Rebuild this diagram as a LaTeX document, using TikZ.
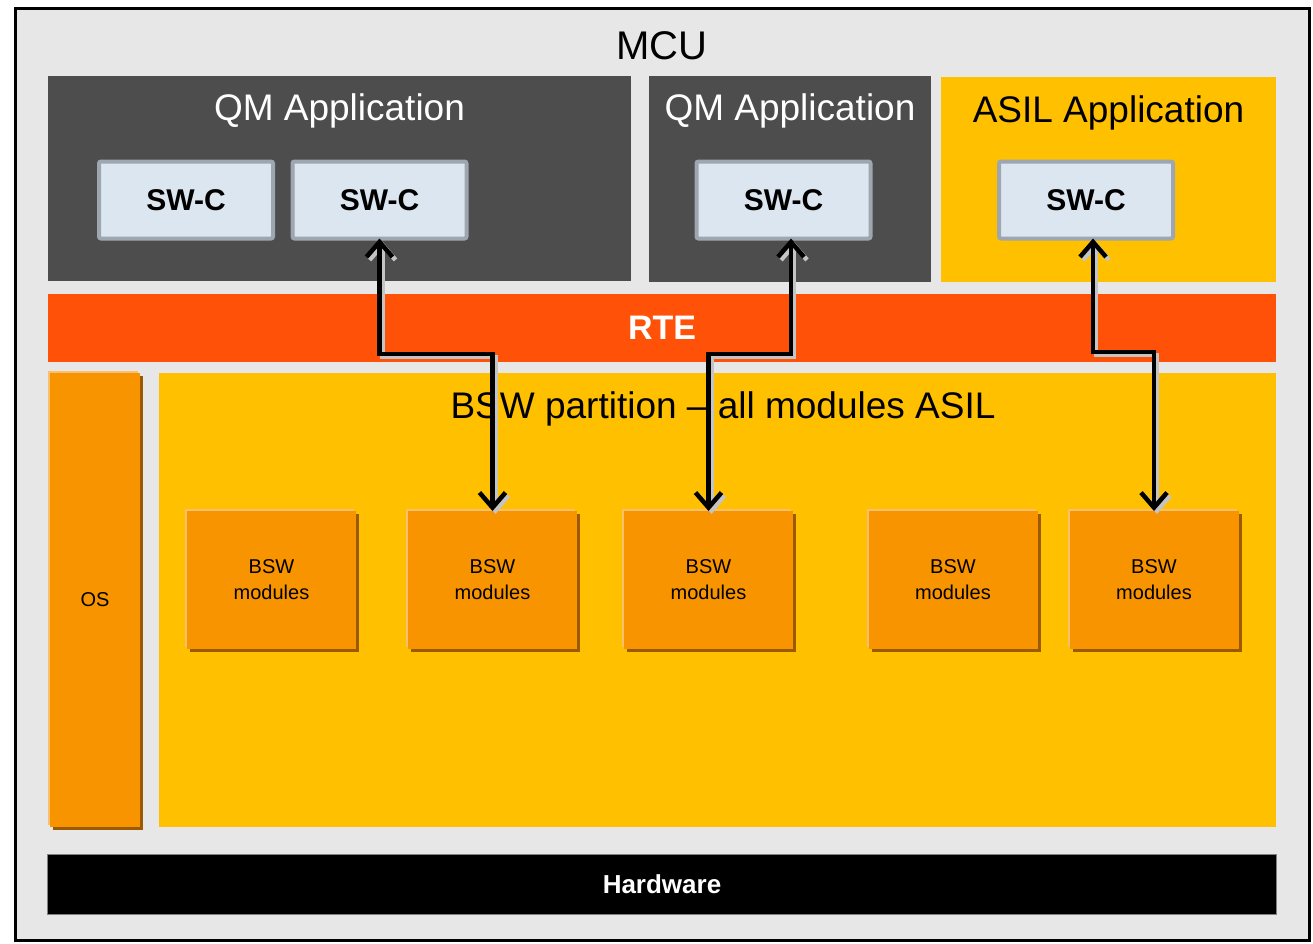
\documentclass[tikz,border=0pt]{standalone}
\usepackage{fontspec}
\setmainfont{Liberation Sans}
\usetikzlibrary{arrows.meta,shadows}
\definecolor{bgc}{HTML}{E7E7E7}
\definecolor{qmc}{HTML}{4D4D4D}
\definecolor{asilc}{HTML}{FFC000}
\definecolor{rtec}{HTML}{FF5208}
\definecolor{modc}{HTML}{F79400}
\definecolor{hlc}{HTML}{FBC06E}
\definecolor{shc}{HTML}{9C5A00}
\definecolor{swf}{HTML}{DCE6F0}
\definecolor{swb}{HTML}{9EA7AF}
\definecolor{arrsh}{HTML}{C4C4C4}
\tikzset{
  blk/.style={inner sep=0pt, outer sep=0pt},
  qmbox/.style={blk, fill=qmc},
  swcbox/.style={blk, fill=swf, draw=swb, line width=4pt, rounded corners=2pt,
    minimum width=174pt, minimum height=77pt, font=\bfseries\fontsize{30}{36}\selectfont},
  modbox/.style={blk, fill=modc,
    general shadow={fill=shc, shadow xshift=3pt, shadow yshift=-3pt},
    general shadow={fill=hlc, shadow xshift=-2pt, shadow yshift=2pt}},
  bswmod/.style={modbox, minimum width=169pt, minimum height=138pt, align=center,
    font=\fontsize{20}{26}\selectfont},
  title/.style={blk, font=\fontsize{37}{44}\selectfont},
  arr/.style={line width=4.5pt, line join=miter,
    arrows={Straight Barb[length=15pt,width=26pt]-Straight Barb[length=15pt,width=26pt]}},
  arrshadow/.style={arr, draw=arrsh, transform canvas={xshift=3pt,yshift=-3pt}}
}
\begin{document}
\begin{tikzpicture}[x=1pt,y=-1pt]
\useasboundingbox (0,0) rectangle (1313,943);
\draw[fill=bgc, line width=3pt] (15,8) rectangle (1309,940);
\node[title, font=\fontsize{40}{48}\selectfont] (mcu) at (662,46) {MCU};
% applications
\node[qmbox, minimum width=583pt, minimum height=205pt] (qm1) at (339.5,178.5) {};
\node[title, text=white] (qm1t) at (339.5,111) {QM Application};
\node[qmbox, minimum width=282pt, minimum height=206pt] (qm2) at (790,179) {};
\node[title, text=white] (qm2t) at (790,111) {QM Application};
\node[blk, fill=asilc, minimum width=335pt, minimum height=205pt] (asil) at (1108.5,179.5) {};
\node[title] (asilt) at (1108.5,113) {ASIL Application};
% SW-C
\node[swcbox] (swc1) at (186,200) {SW-C};
\node[swcbox] (swc2) at (379.5,200) {SW-C};
\node[swcbox] (swc3) at (783.5,200) {SW-C};
\node[swcbox] (swc4) at (1086,200) {SW-C};
% RTE
\node[blk, fill=rtec, minimum width=1228pt, minimum height=68pt, text=white,
  font=\bfseries\fontsize{34}{40}\selectfont] (rte) at (662,328) {RTE};
% OS
\node[modbox, minimum width=90pt, minimum height=454pt, font=\fontsize{20}{24}\selectfont] (os) at (95,600) {OS};
% BSW partition
\node[blk, fill=asilc, minimum width=1117pt, minimum height=454pt] (bswp) at (717.5,600) {};
\node[title] (bswpt) at (723,409) {BSW partition -- all modules ASIL};
% BSW modules
\node[bswmod] (b1) at (271.5,580) {BSW\\modules};
\node[bswmod] (b2) at (492.5,580) {BSW\\modules};
\node[bswmod] (b3) at (708.5,580) {BSW\\modules};
\node[bswmod] (b4) at (953,580) {BSW\\modules};
\node[bswmod] (b5) at (1154,580) {BSW\\modules};
% Hardware
\node[blk, fill=black, draw=gray, line width=1pt, minimum width=1229pt, minimum height=60pt,
  text=white, font=\bfseries\fontsize{26}{31}\selectfont] (hw) at (662,884) {Hardware};
% arrows
\coordinate (y1) at (0,354);
\coordinate (y3) at (0,352);
\coordinate (a2) at ([xshift=7.5pt]swc3.south);
\coordinate (a3) at ([xshift=7pt]swc4.south);
\draw[arrshadow] (swc2.south) -- (swc2.south |- y1) -- (b2.north |- y1) -- (b2.north);
\draw[arrshadow] (a2) -- (a2 |- y1) -- (b3.north |- y1) -- (b3.north);
\draw[arrshadow] (a3) -- (a3 |- y3) -- (b5.north |- y3) -- (b5.north);
\draw[arr] (swc2.south) -- (swc2.south |- y1) -- (b2.north |- y1) -- (b2.north);
\draw[arr] (a2) -- (a2 |- y1) -- (b3.north |- y1) -- (b3.north);
\draw[arr] (a3) -- (a3 |- y3) -- (b5.north |- y3) -- (b5.north);
\end{tikzpicture}
\end{document}
